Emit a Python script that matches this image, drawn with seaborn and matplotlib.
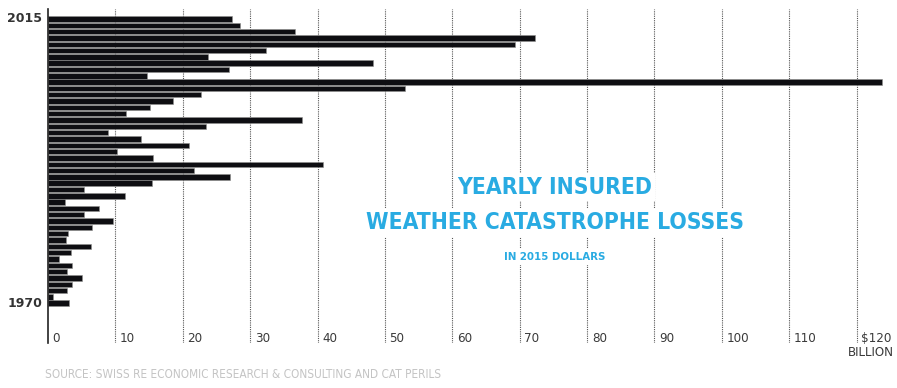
import numpy as np
import pandas as pd
import matplotlib
matplotlib.use("Agg")
import matplotlib.pyplot as plt
import matplotlib.transforms as mtransforms
import seaborn as sns

# ---------------- data ----------------
years = list(range(2015, 1969, -1))
losses = [27.3, 28.5, 36.6, 72.3, 69.3, 32.4, 23.8, 48.3, 26.9, 14.7,
          123.8, 53.0, 22.7, 18.6, 15.1, 11.6, 37.7, 23.5, 8.9, 13.8,
          20.9, 10.3, 15.6, 40.8, 21.6, 27.0, 15.5, 5.3, 11.4, 2.5,
          7.5, 5.3, 9.6, 6.6, 3.0, 2.7, 6.4, 3.4, 1.6, 3.6,
          2.8, 5.1, 3.6, 2.8, 0.7, 3.1]
tick_values = [0, 10, 20, 30, 40, 50, 60, 70, 80, 90, 100, 110, 120]
tick_labels = ["0", "10", "20", "30", "40", "50", "60", "70", "80", "90",
               "100", "110", "$120"]
unit_label = "BILLION"
labeled_years = [2015, 1970]
title_lines = ["YEARLY INSURED", "WEATHER CATASTROPHE LOSSES", "IN 2015 DOLLARS"]
source_text = "SOURCE: SWISS RE ECONOMIC RESEARCH & CONSULTING AND CAT PERILS"

# ---------------- style ----------------
sns.set_theme(style="white")
plt.rcParams["font.family"] = ["DejaVu Sans"]
COND = dict(family=["DejaVu Sans"], fontstretch="condensed")
BLUE = "#29abe2"

W, H = 897, 388
fig = plt.figure(figsize=(W / 100, H / 100), dpi=100)
ax = fig.add_axes([48 / W, 45 / H, (W - 48) / W, 334 / H])

df = pd.DataFrame({"year": [str(y) for y in years], "loss": losses})
sns.barplot(data=df, x="loss", y="year", order=[str(y) for y in years],
            color="#0e0e12", saturation=1, width=0.86, orient="h",
            edgecolor="#8f8f8f", linewidth=0.4, ax=ax, zorder=2)

ax.set_xlim(0, 126)
ax.set_ylim(len(years) - 1 + 6.3, -1.58)
ax.set_xlabel("")
ax.set_ylabel("")
ax.set_xticks([])
ax.set_yticks([])
for s in ["top", "right", "bottom"]:
    ax.spines[s].set_visible(False)
ax.spines["left"].set_color("#222222")
ax.spines["left"].set_linewidth(1.2)

# dotted gridlines
for v in tick_values[1:]:
    ax.axvline(v, linestyle=(0, (1, 1)), color="#555555", linewidth=0.8, zorder=0.5)

# tick labels beside gridlines
trans = mtransforms.blended_transform_factory(ax.transData, ax.transAxes)
for v, lab in zip(tick_values, tick_labels):
    ax.text(v + 0.7, 0.012, lab, transform=trans, ha="left", va="center",
            fontsize=9.5, color="#3a3a3a", **COND)
fig.text(0.997, 1 - 353 / H, unit_label, ha="right", va="center",
         fontsize=9.5, color="#3a3a3a", **COND)

# year labels
ytrans = mtransforms.blended_transform_factory(ax.transAxes, ax.transData)
order = [str(y) for y in years]
for y in labeled_years:
    ax.text(-6 / (W - 48), order.index(str(y)), str(y), transform=ytrans,
            ha="right", va="center", fontsize=9, fontweight="bold",
            color="#333333", clip_on=False)

# title block
bbox = dict(facecolor="white", edgecolor="none", pad=2)
fig.text(555 / W, 1 - 187 / H, title_lines[0], ha="center", va="center",
         fontsize=16.4, fontweight="bold", color=BLUE, bbox=bbox, zorder=5, **COND)
fig.text(555 / W, 1 - 223 / H, title_lines[1], ha="center", va="center",
         fontsize=16.4, fontweight="bold", color=BLUE, bbox=bbox, zorder=5, **COND)
fig.text(555 / W, 1 - 257 / H, title_lines[2], ha="center", va="center",
         fontsize=8.2, fontweight="bold", color=BLUE, bbox=bbox, zorder=5, **COND)

fig.text(45 / W, 1 - 375 / H, source_text, ha="left", va="center",
         fontsize=8.5, color="#c4c4c4", **COND)

fig.savefig("out.png", dpi=100)
